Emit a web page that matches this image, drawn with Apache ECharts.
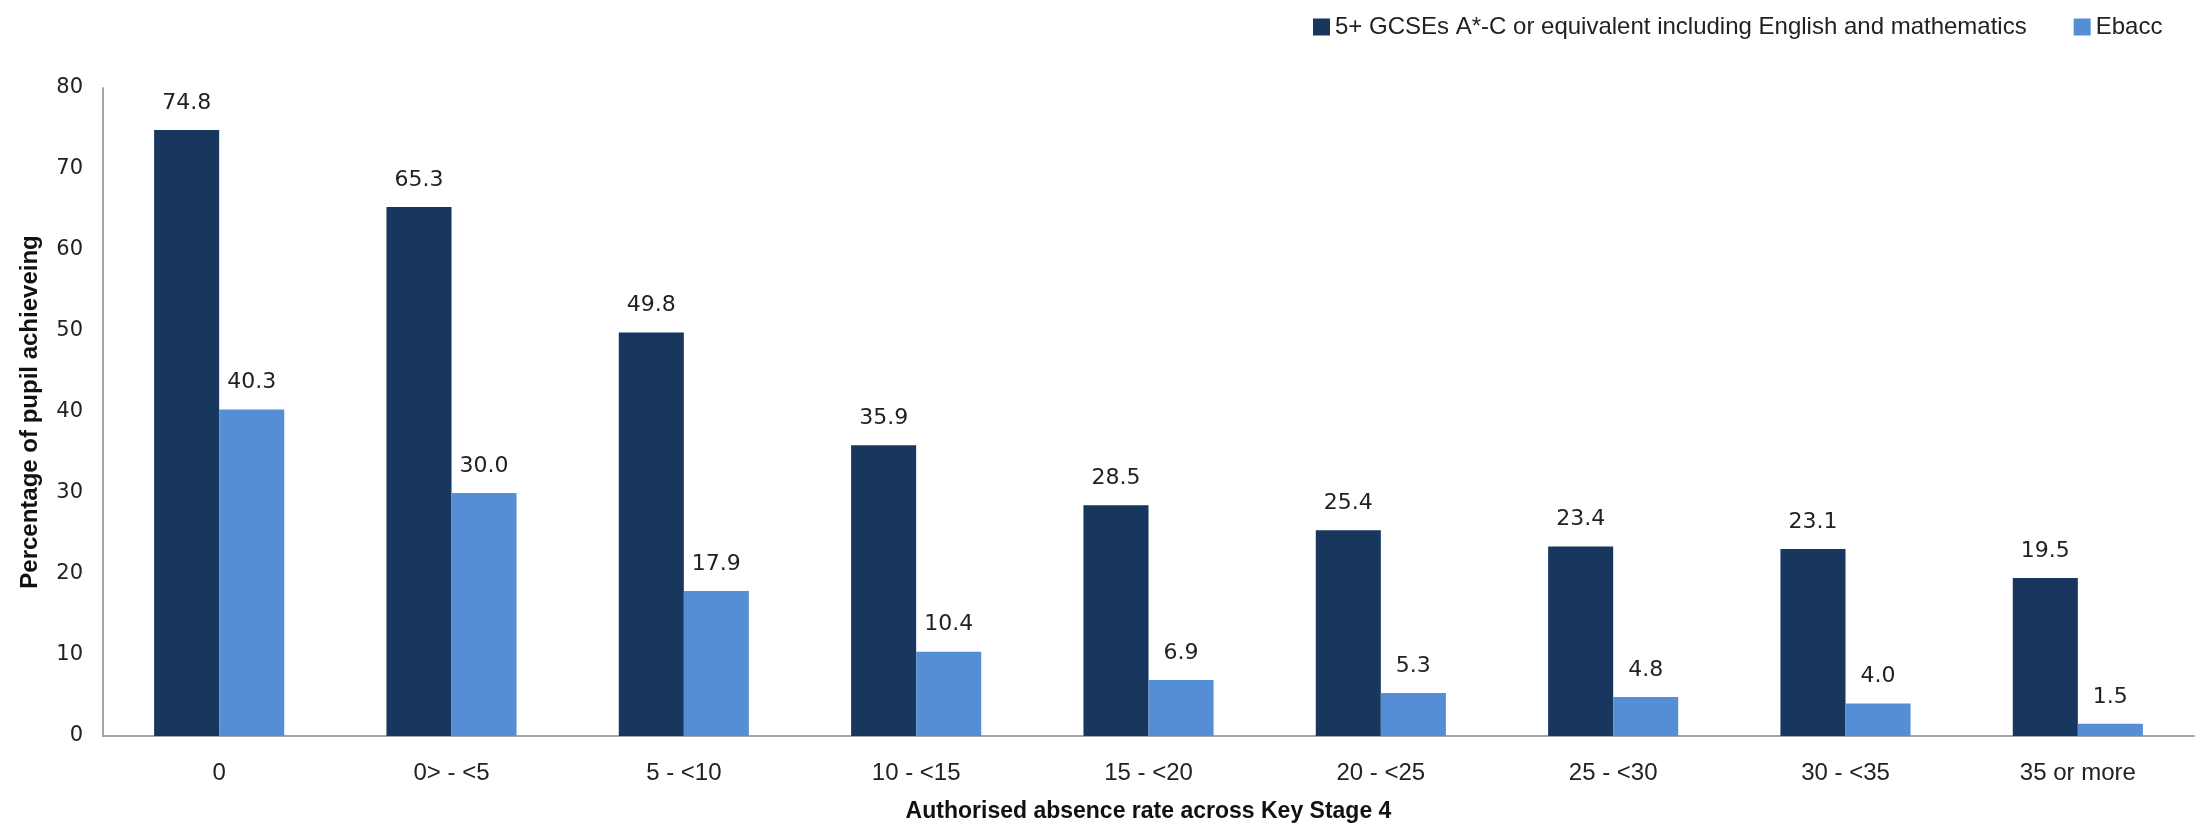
<!DOCTYPE html>
<html>
<head>
<meta charset="utf-8">
<script src="https://cdn.jsdelivr.net/npm/echarts@6/dist/echarts.min.js"></script>
<style>
  html, body { margin: 0; padding: 0; background: #fff; }
  #chart { width: 2208px; height: 828px; }
</style>
</head>
<body>
<div id="chart"></div>
<script>
// absence bands and percentages
const categories = ['0', '0> - <5', '5 - <10', '10 - <15', '15 - <20', '20 - <25', '25 - <30', '30 - <35', '35 or more'];
const gcseValues = [74.8, 65.3, 49.8, 35.9, 28.5, 25.4, 23.4, 23.1, 19.5];
const ebaccValues = [40.3, 30.0, 17.9, 10.4, 6.9, 5.3, 4.8, 4.0, 1.5];
const seriesNames = ['5+ GCSEs A*-C or equivalent including English and mathematics', 'Ebacc'];

const sans = '"Liberation Sans", Arial, sans-serif';
const numFont = '"DejaVu Sans", Verdana, sans-serif';

const chart = echarts.init(document.getElementById('chart'));

const labelStyle = {
  show: true,
  position: 'top',
  distance: 16,
  color: '#222',
  fontFamily: numFont,
  fontSize: 22,
  formatter: p => p.value.toFixed(1)
};

chart.setOption({
  animation: false,
  backgroundColor: '#fff',
  legend: {
    left: 1308,
    top: 10,
    itemWidth: 17,
    itemHeight: 17,
    itemGap: 47,
    icon: 'rect',
    textStyle: { fontFamily: sans, fontSize: 24, color: '#222' },
    data: seriesNames
  },
  grid: { left: 103, right: 14, top: 88, bottom: 91 },
  xAxis: {
    type: 'category',
    data: categories,
    name: 'Authorised absence rate across Key Stage 4',
    nameLocation: 'middle',
    nameGap: 64,
    nameTextStyle: { fontFamily: sans, fontSize: 23, fontWeight: 'bold', color: '#111' },
    axisLine: { lineStyle: { color: '#a6a6a6', width: 2 } },
    axisTick: { show: false },
    axisLabel: { color: '#222', fontFamily: sans, fontSize: 24, margin: 25 }
  },
  yAxis: {
    type: 'value',
    min: 0,
    max: 80,
    interval: 10,
    name: 'Percentage of pupil achieveing',
    nameLocation: 'middle',
    nameGap: 61,
    nameTextStyle: { fontFamily: sans, fontSize: 24, fontWeight: 'bold', color: '#111' },
    axisLine: { show: true, lineStyle: { color: '#a6a6a6', width: 2 } },
    axisTick: { show: false },
    splitLine: { show: false },
    axisLabel: { color: '#222', fontFamily: numFont, fontSize: 21, margin: 20 }
  },
  series: [
    {
      name: seriesNames[0],
      type: 'bar',
      data: gcseValues,
      barGap: '0%',
      barCategoryGap: '44%',
      itemStyle: { color: '#17375e' },
      label: labelStyle
    },
    {
      name: seriesNames[1],
      type: 'bar',
      data: ebaccValues,
      itemStyle: { color: '#558ed5' },
      label: labelStyle
    }
  ]
});
</script>
</body>
</html>
